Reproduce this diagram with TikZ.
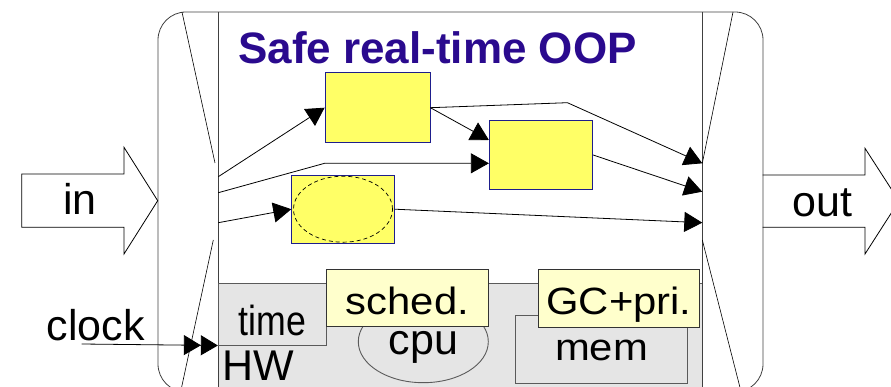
\documentclass[tikz,border=0pt]{standalone}
\usepackage{fontspec}
\setmainfont{Liberation Sans}
\newfontfamily\widefont[FakeStretch=1.1]{Liberation Sans}
\newfontfamily\narrowfont[FakeStretch=0.85]{Liberation Sans}
\usetikzlibrary{arrows.meta,calc,shapes.geometric}

\definecolor{titleblue}{RGB}{42,10,142}
\definecolor{taskyellow}{RGB}{255,255,102}
\definecolor{tasknavy}{RGB}{30,30,140}
\definecolor{svcyellow}{RGB}{255,255,204}
\definecolor{hwgray}{RGB}{229,229,229}
\definecolor{hwedge}{RGB}{90,90,90}

\tikzset{
  txt/.style={inner sep=0pt, font=\fontsize{43}{43}\selectfont},
  flow/.style={-{Triangle[length=18pt,width=20pt]}, line width=0.8pt},
  clockflow/.style={-{Triangle[length=17pt,width=20pt]Triangle[length=17pt,width=20pt]}, line width=0.8pt},
  taskbox/.style={draw=tasknavy, fill=taskyellow, line width=0.8pt, inner sep=0pt},
  hwpart/.style={draw=hwedge, fill=hwgray, line width=0.9pt, inner sep=0pt, text depth=0pt},
  svcbox/.style={draw=black!80, fill=svcyellow, line width=0.8pt, inner sep=0pt,
    text height=33pt, text depth=0pt, font=\widefont\fontsize{38}{38}\selectfont},
}

\begin{document}
\begin{tikzpicture}[x=1pt,y=-1pt]
  \useasboundingbox (0,0) rectangle (891,387);

  % Outer frame and HW layer
  \draw[black!75, line width=0.8pt, rounded corners=28pt] (158,12) rectangle (763,392);
  \fill[hwgray] (218.3,283.3) rectangle (702.3,400);
  \draw[hwedge, line width=0.9pt] (218.3,283.3) -- (702.3,283.3);

  % Input and output ports
  \draw[black!75, line width=0.8pt] (218.3,12) -- (218.3,400) (702.3,12) -- (702.3,400);
  \draw[line width=0.6pt] (182,12) -- (215,163) (213.3,240) -- (180.7,391.5);
  \draw[line width=0.6pt] (733,12) -- (702.3,163.3) (702.3,240) -- (741,391.5);

  % Big in/out arrows
  \draw[line width=0.8pt] (21.7,174) -- (124,174) -- (124,147.3) -- (157.7,200.7)
    -- (124,254) -- (124,227.3) -- (21.7,227.3) -- cycle;
  \draw[line width=0.8pt] (762.7,175) -- (865,175) -- (865,148.3) -- (899,201)
    -- (865,254) -- (865,227.3) -- (762.7,227.3);
  \node[txt, anchor=base] (in) at (80,215) {in};
  \node[txt, anchor=base] (out) at (822.8,216.7) {out};

  \node[txt, anchor=base west, text=titleblue, font=\bfseries\fontsize{44}{44}\selectfont]
    (title) at (238,63.3) {Safe real-time OOP};

  % Tasks
  \node[taskbox, minimum width=105pt, minimum height=70pt] (t1) at (377.5,107.7) {};
  \node[taskbox, minimum width=103.4pt, minimum height=68.6pt] (t2) at (541,155) {};
  \node[taskbox, minimum width=102.6pt, minimum height=68.3pt] (t3) at (343,209.2) {};
  \draw[dashed, dash pattern=on 4pt off 3pt, line width=0.7pt] (t3.center) ellipse [x radius=49.5pt, y radius=33pt];

  \coordinate (in1) at (218.3,176.7);
  \coordinate (in2) at (218.3,192.7);
  \coordinate (in3) at (218.3,222.7);
  \coordinate (out1) at (702.3,163.3);
  \coordinate (out2) at (702.3,191.7);
  \coordinate (out3) at (702.3,222.7);
  \coordinate (t2in) at ($(t2.west)+(0,8.3)$);

  \draw[flow] (in1) -- (t1.west);
  \draw[flow] (in2) -- (t1.west |- t2in) -- (t2in);
  \draw[flow] (in3) -- (t3.west);
  \draw[flow] (t1.east) -- ($(t2.west)+(0,-15)$);
  \draw[flow] (t1.east) -- ++(137,-5) -- (out1);
  \draw[flow] (t2.east) -- (out2);
  \draw[flow] (t3.east) -- (out3);

  % HW parts
  \node[hwpart, minimum width=108.4pt, minimum height=61.7pt, text height=42pt,
    font=\narrowfont\fontsize{42}{42}\selectfont] (time) at (272.5,314.2) {time};
  \node[hwpart, ellipse, minimum width=130pt, minimum height=82pt, text height=24.6pt,
    font=\fontsize{43}{43}\selectfont] (cpu) at (423.3,341.7) {cpu};
  \node[hwpart, minimum width=171.6pt, minimum height=67.6pt, text height=22pt,
    font=\widefont\fontsize{38}{38}\selectfont] (mem) at (601.5,349.5) {mem};
  \node[svcbox, minimum width=161.6pt, minimum height=57.4pt] (sched) at (407.5,298) {sched.};
  \node[svcbox, minimum width=161.7pt, minimum height=58pt] (gc) at (619,298.3) {GC+pri.};
  \node[txt, anchor=base west] (hw) at (222.5,380) {HW};

  % Clock input
  \node[txt, anchor=base west] (clock) at (46.5,340) {clock};
  \coordinate (clk) at (81.7,344);
  \draw[clockflow] (clk) -- (time.south west);
\end{tikzpicture}
\end{document}
